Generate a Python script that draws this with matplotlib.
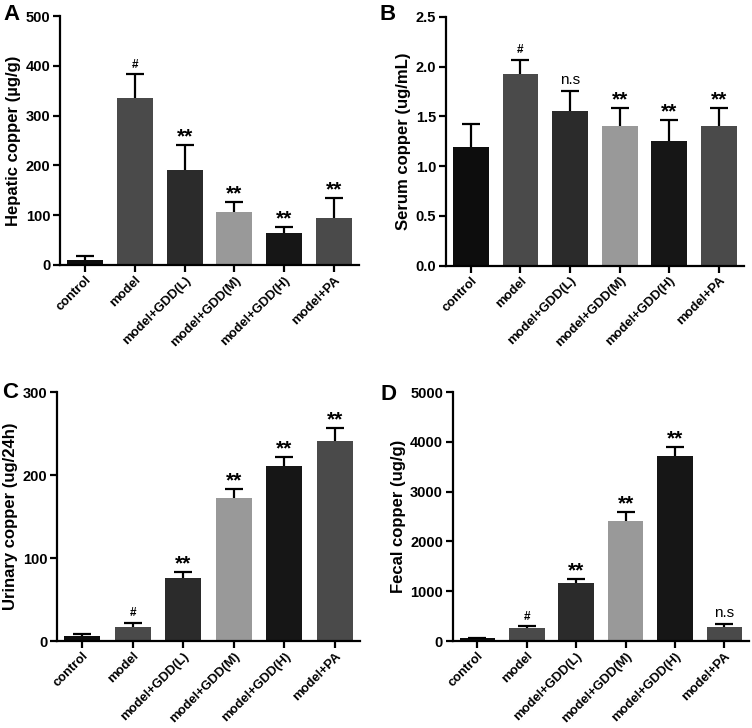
import matplotlib
matplotlib.use("Agg")
import matplotlib.pyplot as plt
import numpy as np

plt.rcParams['font.family'] = ['Liberation Sans', 'DejaVu Sans']
plt.rcParams['font.weight'] = 'bold'

groups = ['control', 'model', 'model+GDD(L)', 'model+GDD(M)', 'model+GDD(H)', 'model+PA']
bar_colors = ['#0d0d0d', '#4a4a4a', '#2b2b2b', '#999999', '#161616', '#4a4a4a']

hepatic = [11, 335, 190, 106, 65, 95]
hepatic_err = [7, 48, 50, 20, 12, 40]
hepatic_sig = ['', '#', '**', '**', '**', '**']

serum = [1.19, 1.925, 1.55, 1.405, 1.255, 1.40]
serum_err = [0.23, 0.145, 0.205, 0.18, 0.21, 0.185]
serum_sig = ['', '#', 'n.s', '**', '**', '**']

urinary = [6, 17, 76, 172, 211, 241]
urinary_err = [2, 5, 7.5, 11, 11, 16]
urinary_sig = ['', '#', '**', '**', '**', '**']

fecal = [54, 256, 1171, 2416, 3715, 283]
fecal_err = [10, 40, 75, 180, 175, 55]
fecal_sig = ['', '#', '**', '**', '**', 'n.s']

# letter position in pixels (x from left, y from top)
panels = [
    ('A', (3, 14), [0.0798, 0.636, 0.3976, 0.342], hepatic, hepatic_err, hepatic_sig,
     'Hepatic copper (µg/g)', 500, 100, '%d'),
    ('B', (379, 14), [0.593, 0.635, 0.396, 0.342], serum, serum_err, serum_sig,
     'Serum copper (ug/mL)', 2.5, 0.5, '%.1f'),
    ('C', (2, 392), [0.0758, 0.1195, 0.403, 0.342], urinary, urinary_err, urinary_sig,
     'Urinary copper (ug/24h)', 300, 100, '%d'),
    ('D', (380, 394), [0.602, 0.1195, 0.394, 0.342], fecal, fecal_err, fecal_sig,
     'Fecal copper (ug/g)', 5000, 1000, '%d'),
]

W, H = 752, 728
fig = plt.figure(figsize=(W / 100, H / 100), dpi=100)

for letter, lpos, rect, vals, errs, sigs, ylabel, ymax, step, fmt in panels:
    ax = fig.add_axes(rect)
    x = np.arange(len(groups))
    ax.bar(x, vals, width=0.72, color=bar_colors, zorder=2)
    eb = ax.errorbar(x, vals, yerr=[np.zeros(len(vals)), errs], fmt='none',
                     ecolor='black', elinewidth=1.6, capsize=6.5, capthick=1.6, zorder=3)
    eb[1][0].set_visible(False)
    for xi, v, e, s in zip(x, vals, errs, sigs):
        if not s:
            continue
        top = v + e + ymax * 0.015
        if s == '#':
            ax.text(xi, top, s, ha='center', va='bottom', fontsize=8.5)
        elif s == 'n.s':
            ax.text(xi, top, s, ha='center', va='bottom', fontsize=11, fontweight='normal')
        else:
            ax.text(xi, top - ymax * 0.02, s, ha='center', va='bottom', fontsize=15)
    ax.set_xlim(-0.5, 5.5)
    ax.set_ylim(0, ymax)
    ax.set_yticks(np.arange(0, ymax + step / 2, step))
    ax.yaxis.set_major_formatter(matplotlib.ticker.FormatStrFormatter(fmt))
    ax.set_xticks(x)
    ax.set_xticklabels(groups, rotation=45, ha='right', rotation_mode='anchor',
                       fontsize=9.4, fontweight='bold')
    for lab in ax.get_yticklabels():
        lab.set_fontsize(10.5)
        lab.set_fontweight('bold')
    ax.set_ylabel(ylabel, fontsize=12, fontweight='bold', labelpad=3)
    ax.spines['top'].set_visible(False)
    ax.spines['right'].set_visible(False)
    ax.spines['left'].set_linewidth(1.6)
    ax.spines['bottom'].set_linewidth(1.6)
    ax.tick_params(direction='out', length=5, width=1.6, pad=2)
    ax.tick_params(axis='x', pad=1.5)
    fig.text(lpos[0] / W, 1 - lpos[1] / H, letter, fontsize=16,
             fontweight='bold', ha='left', va='center')

fig.savefig('out.png', dpi=100)
